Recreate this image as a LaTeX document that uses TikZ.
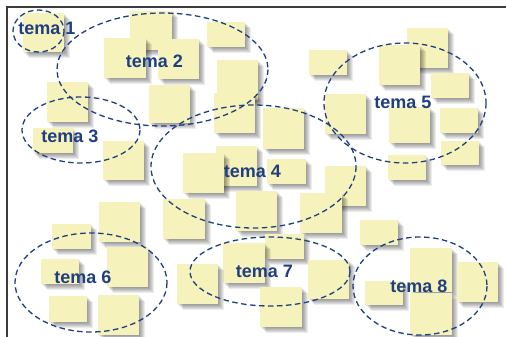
\documentclass[tikz,border=0pt]{standalone}
\usepackage{fontspec}
\setmainfont{Liberation Sans}
\definecolor{note}{HTML}{F6F2BC}
\definecolor{ink}{HTML}{1F3F80}
\definecolor{frame}{HTML}{3C3C3C}
\tikzset{
  notefill/.style={fill=note},
  shade1/.style={fill=black, opacity=0.075},
  topic/.style={draw=ink, line width=1.3pt, dash pattern=on 5.5pt off 3.5pt},
  label/.style={text=ink, font=\bfseries\fontsize{18}{20}\selectfont, anchor=base, inner sep=0pt},
}
\begin{document}
\begin{tikzpicture}[x=1pt,y=-1pt]
\useasboundingbox (0,0) rectangle (506,337);
\fill[white] (0,0) rectangle (506,337);
% sticky notes
\foreach \a/\b/\c/\d in {
 23/13/64/52, 130/11/172/50, 104/38/146/78, 158/39/199/79, 207/22/245/47,
 217/60/258/100, 149/85/190/123, 47/82/88/122, 33/128/73/153, 103/141/144/180,
 214/93/255/133, 263/108/304/149, 325/94/366/134, 216/146/257/186, 183/153/224/193,
 267/159/306/184, 325/166/366/206, 300/193/342/233, 236/191/277/231, 163/199/205/239,
 99/202/140/242, 360/220/398/245, 265/234/304/259, 223/243/265/283, 177/264/218/304,
 260/287/302/327, 308/260/349/299, 388/155/426/180, 441/141/479/165, 410/248/452/292,
 410/293/452/335, 365/281/403/305, 457/262/498/302, 309/50/347/75, 407/28/448/68,
 379/45/420/85, 431/73/469/98, 389/107/430/143, 440/108/478/133, 52/224/91/249,
 41/259/79/284, 107/247/148/287, 49/296/87/322, 98/295/139/335}
{
  \foreach \k in {1,...,6}
    \fill[shade1] (\a+\k,\b+\k) rectangle (\c+\k,\d+\k);
  \fill[notefill] (\a,\b) rectangle (\c,\d);
}
% frame
\draw[frame, line width=1.5pt] (506,7) -- (7,7) -- (7,337);
% topic ellipses
\draw[topic] (38.5,31) ellipse [x radius=25.5, y radius=21];
\draw[topic] (162.5,69.5) ellipse [x radius=105.5, y radius=56.5];
\draw[topic] (81,130) ellipse [x radius=59, y radius=33];
\draw[topic] (253.5,166.5) ellipse [x radius=102.5, y radius=61.5];
\draw[topic] (405,103) ellipse [x radius=81, y radius=60];
\draw[topic] (91,282.5) ellipse [x radius=76, y radius=49.5];
\draw[topic] (270,271.5) ellipse [x radius=80, y radius=34.5];
\draw[topic] (420,286) ellipse [x radius=67, y radius=49];
% labels
\node[label] (t1) at (47,35) {tema 1};
\node[label] (t2) at (154.5,68) {tema 2};
\node[label] (t3) at (70,142) {tema 3};
\node[label] (t4) at (252.5,177) {tema 4};
\node[label] (t5) at (403,108) {tema 5};
\node[label] (t6) at (83,283) {tema 6};
\node[label] (t7) at (264.5,277) {tema 7};
\node[label] (t8) at (419,292) {tema 8};
\end{tikzpicture}
\end{document}
